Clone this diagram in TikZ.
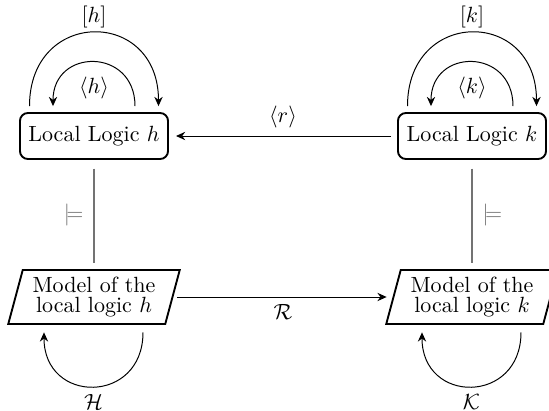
\documentclass[tikz,border=0pt]{standalone}
\usetikzlibrary{arrows.meta,calc}
\begin{document}
\begin{tikzpicture}[x=0.4545pt,y=0.4545pt,
  arr/.style={-{Stealth[length=4.2pt,width=3.8pt,inset=1.4pt]},line width=0.45pt},
  logicbox/.style={draw,line width=0.85pt,rounded corners=3.6pt,
    minimum width=67.3pt,minimum height=20.9pt,inner sep=0pt},
  modelnode/.style={align=center,font=\fontsize{10}{9.1}\selectfont,
    inner sep=0pt,minimum width=71.8pt,minimum height=24.5pt},
  frame/.style={draw,line width=0.85pt},
  satline/.style={draw=black!55,line width=0.55pt,shorten <=4pt,shorten >=3.2pt},
  satlabel/.style={text=black!55}]
\useasboundingbox (0,0) rectangle (549,-411);

% the two local logics
\node[logicbox] (h) at (94,-136) {Local Logic $h$};
\node[logicbox] (k) at (472,-136) {Local Logic $k$};

% their models
\node[modelnode] (mh) at (94,-297) {Model of the\\local logic $h$};
\node[modelnode] (mk) at (472,-297) {Model of the\\local logic $k$};
\path[frame] ($(mh)+(-71.25,27)$) -- ($(mh)+(85.75,27)$)
  -- ($(mh)+(71.25,-27)$) -- ($(mh)+(-85.75,-27)$) -- cycle;
\path[frame] ($(mk)+(-71.25,27)$) -- ($(mk)+(85.75,27)$)
  -- ($(mk)+(71.25,-27)$) -- ($(mk)+(-85.75,-27)$) -- cycle;

% satisfaction relations
\path[satline] (h) -- (mh) node[midway,left=1.2pt,satlabel] {$\models$};
\path[satline] (k) -- (mk) node[midway,right=1.2pt,satlabel] {$\models$};

% maps between the logics and between the models
\draw[arr,shorten <=2.7pt,shorten >=3.2pt] (k) -- (h)
  node[midway,above] {$\langle r\rangle$};
\draw[arr,shorten <=1.8pt,shorten >=2.7pt] (mh) -- (mk)
  node[midway,below] {$\mathcal{R}$};

% loops on the logic h
\draw[arr] ($(h.north)+(-64.5,6)$) to[out=90,in=90,looseness=1.95]
  node[above=-1.5pt] {$[h]$} ($(h.north)+(64.5,6)$);
\draw[arr] ($(h.north)+(41,6)$) to[out=90,in=90,looseness=1.83]
  node[below=3pt] {$\langle h\rangle$} ($(h.north)+(-41,6)$);

% loops on the logic k
\draw[arr] ($(k.north)+(-64.5,6)$) to[out=90,in=90,looseness=1.95]
  node[above=-1.5pt] {$[k]$} ($(k.north)+(64.5,6)$);
\draw[arr] ($(k.north)+(41,6)$) to[out=90,in=90,looseness=1.83]
  node[below=3pt] {$\langle k\rangle$} ($(k.north)+(-41,6)$);

% loops on the models
\draw[arr] ($(mh.south)+(49,-8)$) to[out=-90,in=-90,looseness=1.87]
  node[below] {$\mathcal{H}$} ($(mh.south)+(-50,-8)$);
\draw[arr] ($(mk.south)+(49,-8)$) to[out=-90,in=-90,looseness=1.87]
  node[below] {$\mathcal{K}$} ($(mk.south)+(-50,-8)$);
\end{tikzpicture}
\end{document}
